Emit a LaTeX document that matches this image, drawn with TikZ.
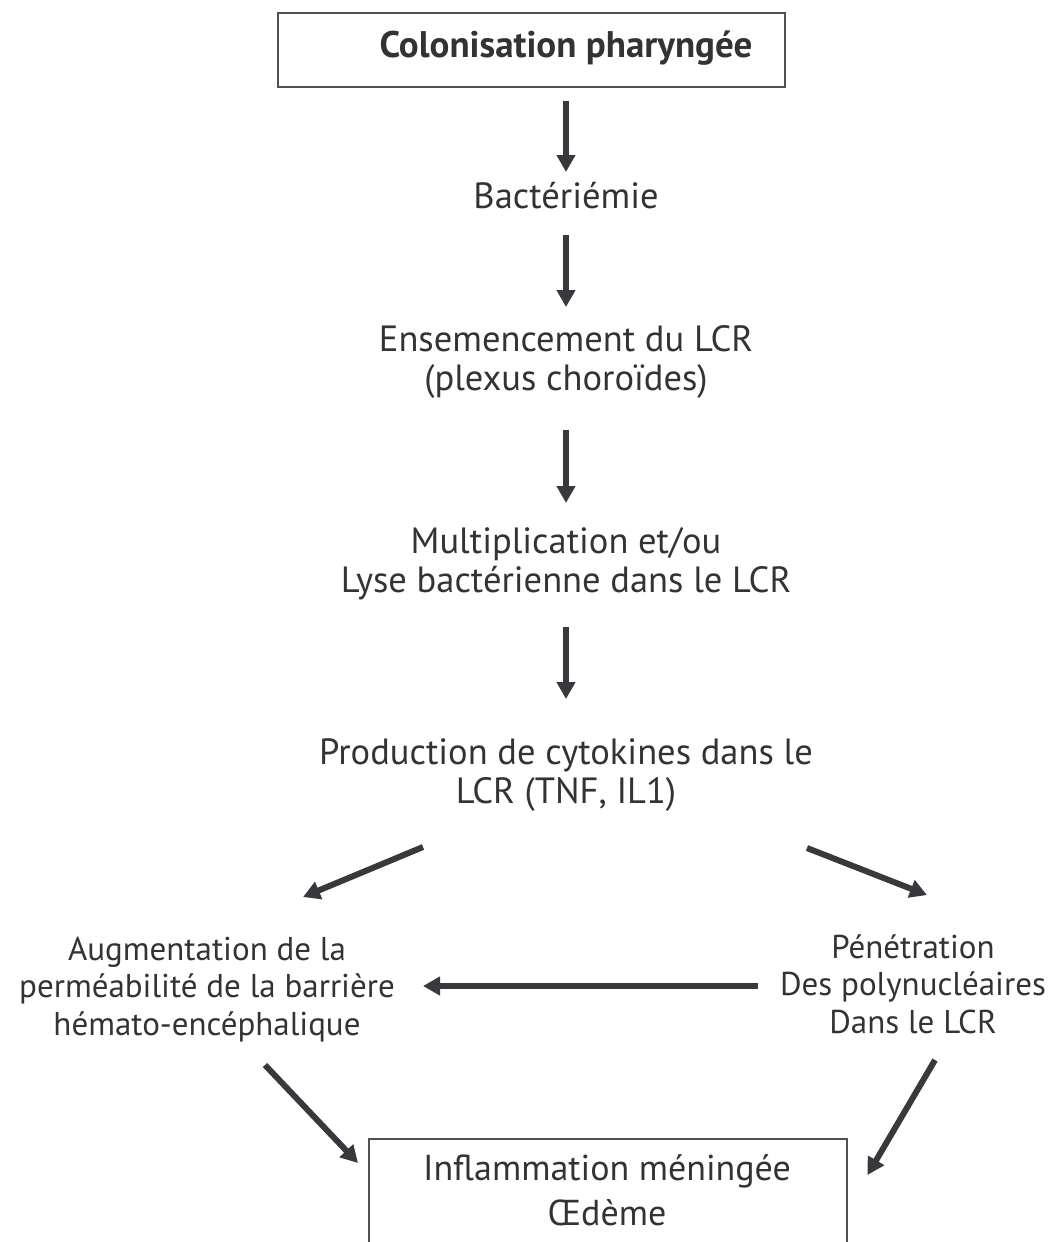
\documentclass[tikz,border=0pt]{standalone}
\usepackage{fontspec}
\setmainfont{PT Sans}
\usetikzlibrary{arrows.meta,calc}
\definecolor{txtcol}{HTML}{333336}
\definecolor{arrcol}{HTML}{38383D}
\definecolor{framecol}{HTML}{505050}
\begin{document}
\begin{tikzpicture}[x=1pt,y=-1pt,
  lbl/.style={inner sep=0pt, align=center, text=txtcol, font=\fontsize{36.5}{39}\selectfont, anchor=base},
  side/.style={lbl, font=\fontsize{33}{37.5}\selectfont},
  flow/.style={draw=arrcol, line width=6pt, -{Triangle[width=18pt,length=17pt]}},
  frame/.style={draw=framecol, line width=1.5pt, inner sep=0pt}]
\useasboundingbox (0,0) rectangle (1052,1242);
\clip (0,0) rectangle (1052,1242);

\node[frame, minimum width=507pt, minimum height=74pt] (topbox) at (531.5,50) {};
\node[lbl, font=\fontsize{37}{39}\selectfont\bfseries] (top) at (566,57) {Colonisation pharyngée};
\node[lbl] (bact) at (566,208) {Bactériémie};
\node[lbl] (ens) at (566,390) {Ensemencement du LCR\\(plexus choroïdes)};
\node[lbl] (mult) at (566,592) {Multiplication et/ou\\Lyse bactérienne dans le LCR};
\node[lbl] (prod) at (566,803) {Production de cytokines dans le\\LCR (TNF, IL1)};
\node[side] (aug) at (207,1035) {Augmentation de la\\perméabilité de la barrière\\hémato-encéphalique};
\node[side] (pen) at (913,1033) {Pénétration\\Des polynucléaires\\Dans le LCR};
\node[frame, minimum width=478pt, minimum height=122pt, anchor=north west] (inflbox) at (368,1138) {};
\node[lbl, font=\fontsize{36}{45}\selectfont] (infl) at (607,1225) {Inflammation méningée\\Œdème};

\draw[flow] ($(top.base |- topbox.south)+(0,13)$) -- ($(bact.base)+(0,-36)$);
\draw[flow] ($(bact.base)+(0,27)$) -- ($(ens.base)+(0,-83)$);
\draw[flow] ($(ens.base)+(0,40)$) -- ($(mult.base)+(0,-89)$);
\draw[flow] ($(mult.base)+(0,35)$) -- ($(prod.base)+(0,-104)$);
\draw[flow] ($(prod.base)+(-143,44)$) -- ($(aug.base)+(96,-138)$);
\draw[flow] ($(prod.base)+(241,45)$) -- ($(pen.base)+(14,-138)$);
\draw[flow] ($(pen.base)+(-155,-47)$) -- ($(aug.base)+(216,-49)$);
\draw[flow] ($(aug.base)+(58,30)$) -- ($(inflbox.north west)+(-10,25)$);
\draw[flow] ($(pen.base)+(22,27)$) -- ($(inflbox.north east)+(20,37)$);
\end{tikzpicture}
\end{document}
